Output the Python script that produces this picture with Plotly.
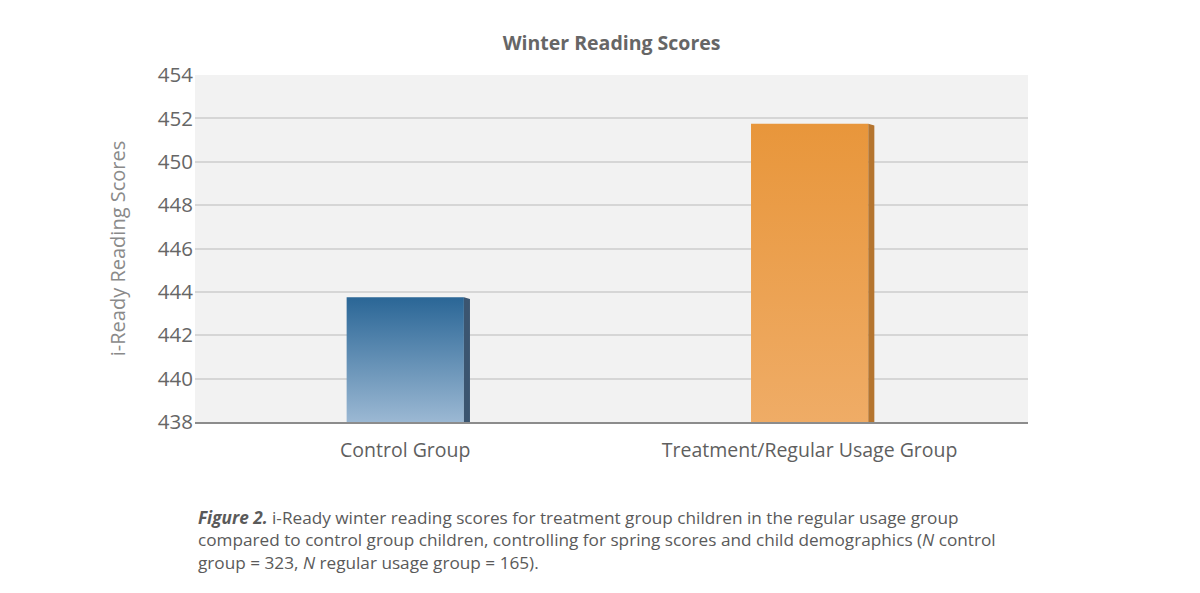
import plotly.graph_objects as go

categories = ["Control Group", "Treatment/Regular Usage Group"]
scores = [443.75, 451.75]
y_ticks = [438, 440, 442, 444, 446, 448, 450, 452, 454]

top_colors = ["#2a6696", "#e8963b"]
bottom_colors = ["#9bb8d3", "#efac66"]
side_colors = ["#3b5570", "#b5752f"]

base = 438
half = 0.145
side = 0.015

fig = go.Figure()

for i, (cat, val) in enumerate(zip(categories, scores)):
    x0, x1 = i - half, i + half
    # front face with vertical gradient
    fig.add_trace(go.Scatter(
        x=[x0, x1, x1, x0, x0], y=[base, base, val, val, base],
        mode="lines", line=dict(width=0), fill="toself",
        fillgradient=dict(type="vertical", start=base, stop=val,
                          colorscale=[[0, bottom_colors[i]], [1, top_colors[i]]]),
        hoverinfo="skip", showlegend=False,
    ))
    # right side face
    fig.add_trace(go.Scatter(
        x=[x1, x1 + side, x1 + side, x1, x1], y=[base, base, val - 0.08, val, base],
        mode="lines", line=dict(width=0), fill="toself", fillcolor=side_colors[i],
        hoverinfo="skip", showlegend=False,
    ))

fig.update_layout(
    width=1200, height=593,
    margin=dict(l=187, r=180, t=67, b=179),
    paper_bgcolor="white", plot_bgcolor="#f2f2f2",
    font=dict(family="Open Sans", color="#666666"),
    title=dict(text="<b>Winter Reading Scores</b>", x=0.503, xanchor="center",
               y=0.94, yanchor="middle", font=dict(size=19.5, color="#666666")),
    showlegend=False,
)
fig.update_xaxes(
    range=[-0.52, 1.54], tickvals=[0, 1], ticktext=categories,
    tickfont=dict(size=19.5, color="#5f5f5f"), showgrid=False, zeroline=False,
    showline=True, linecolor="#8c8c8c", linewidth=2, ticks="", ticklabelstandoff=10,
)
fig.update_yaxes(
    range=[438, 454], tickvals=y_ticks, tickfont=dict(size=20.5, color="#666666"),
    gridcolor="#d6d6d6", gridwidth=1.5, zeroline=False, ticks="", ticklabelstandoff=1,
    title=dict(text="i-Ready Reading Scores", font=dict(size=20, color="#8a8a8a"), standoff=26),
)

fig.add_annotation(
    xref="paper", yref="paper", x=0.001, y=-0.235, xanchor="left", yanchor="top",
    align="left", showarrow=False,
    font=dict(size=17.2, color="#5a5a5a", family="Open Sans"),
    text=("<b><i>Figure 2.</i></b> i-Ready winter reading scores for treatment group children in the regular usage group<br>"
          "compared to control group children, controlling for spring scores and child demographics (<i>N</i> control<br>"
          "group = 323, <i>N</i> regular usage group = 165)."),
)

fig.write_html("out.html")
